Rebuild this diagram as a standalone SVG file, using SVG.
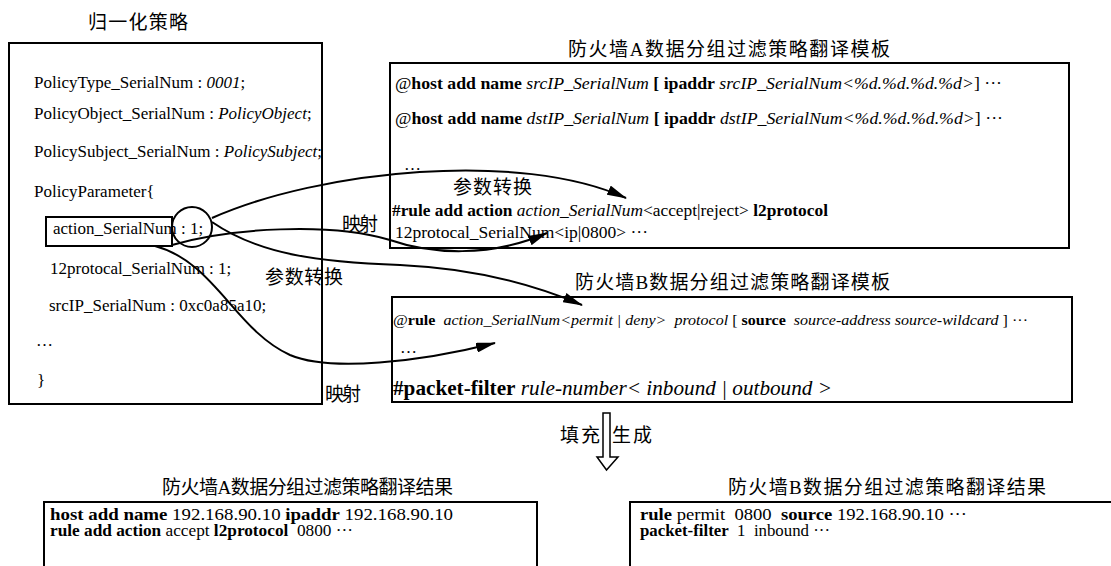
<svg xmlns="http://www.w3.org/2000/svg" width="1111" height="566" viewBox="0 0 1111 566">
<style>
  .box{fill:none;stroke:#000;stroke-width:2}
  .t{font-family:"Liberation Serif","Noto Sans CJK SC",serif;fill:#000}
  .cjk{font-family:"Noto Sans CJK SC","Liberation Serif",sans-serif;font-size:19px;fill:#000}
  .ti{font-family:"Liberation Serif","Noto Sans CJK SC",serif;font-size:19px;fill:#000}
  .b{font-weight:bold}
  .i{font-style:italic}
  .conn{fill:none;stroke:#000;stroke-width:2}
</style>
<defs>
  <marker id="ah" viewBox="0 0 20 10" refX="19" refY="5" markerWidth="20" markerHeight="10" markerUnits="userSpaceOnUse" orient="auto">
    <path d="M0,0 L20,5 L0,10 z" fill="#000"/>
  </marker>
</defs>
<rect width="1111" height="566" fill="#fff"/>

<g id="normalized-policy">
  <text class="cjk" x="88" y="29" textLength="100" lengthAdjust="spacing">归一化策略</text>
  <rect class="box" x="9" y="43" width="313" height="361"/>
  <text class="t" font-size="17" x="34" y="88">PolicyType_SerialNum : <tspan class="i">0001</tspan>;</text>
  <text class="t" font-size="17" x="34" y="119">PolicyObject_SerialNum : <tspan class="i">PolicyObject</tspan>;</text>
  <text class="t" font-size="17" x="34" y="157">PolicySubject_SerialNum : <tspan class="i">PolicySubject</tspan>;</text>
  <text class="t" font-size="17" x="34" y="197">PolicyParameter{</text>
  <text class="t" font-size="17" x="53" y="234">action_SerialNum : 1;</text>
  <rect class="box" x="46" y="217" width="126" height="29"/>
  <circle class="box" cx="192" cy="227" r="20"/>
  <text class="t" font-size="17" x="50" y="274">12protocal_SerialNum : 1;</text>
  <text class="t" font-size="17" x="49" y="311">srcIP_SerialNum : 0xc0a85a10;</text>
  <text class="t" font-size="17" x="36" y="346">…</text>
  <text class="t" font-size="17" x="37" y="386">}</text>
</g>

<g id="template-a">
  <text class="ti" x="568" y="56" textLength="322" lengthAdjust="spacing">防火墙A数据分组过滤策略翻译模板</text>
  <rect class="box" x="390" y="63" width="679" height="185"/>
  <text class="t" font-size="17" x="395" y="89" xml:space="preserve" textLength="607" lengthAdjust="spacingAndGlyphs">@<tspan class="b">host add name</tspan> <tspan class="i">srcIP_SerialNum</tspan> <tspan class="b">[ ipaddr</tspan> <tspan class="i">srcIP_SerialNum&lt;%d.%d.%d.%d&gt;</tspan>] ···</text>
  <text class="t" font-size="17" x="395" y="124" xml:space="preserve" textLength="608" lengthAdjust="spacingAndGlyphs">@<tspan class="b">host add name</tspan> <tspan class="i">dstIP_SerialNum</tspan> <tspan class="b">[ ipaddr</tspan> <tspan class="i">dstIP_SerialNum&lt;%d.%d.%d.%d&gt;</tspan>] ···</text>
  <text class="t" font-size="17" x="404" y="170">…</text>
  <text class="t" font-size="17" x="392" y="216" xml:space="preserve" textLength="436" lengthAdjust="spacingAndGlyphs"><tspan class="b">#rule add action</tspan> <tspan class="i">action_SerialNum</tspan>&lt;accept|reject&gt; <tspan class="b">l2protocol</tspan></text>
  <text class="t" font-size="17" x="395" y="238" xml:space="preserve" textLength="253" lengthAdjust="spacingAndGlyphs">12protocal_SerialNum&lt;ip|0800&gt; ···</text>
</g>

<g id="template-b">
  <text class="ti" x="575" y="289" textLength="315" lengthAdjust="spacing">防火墙B数据分组过滤策略翻译模板</text>
  <rect class="box" x="392" y="297" width="680" height="105"/>
  <text class="t" font-size="14" x="393" y="325" xml:space="preserve" textLength="635" lengthAdjust="spacingAndGlyphs">@<tspan class="b">rule</tspan>  <tspan class="i">action_SerialNum&lt;permit | deny&gt;  protocol</tspan> [ <tspan class="b">source</tspan>  <tspan class="i">source-address source-wildcard</tspan> ] ···</text>
  <text class="t" font-size="17" x="400" y="353">…</text>
  <text class="t" font-size="21" x="393" y="395" xml:space="preserve" textLength="439" lengthAdjust="spacingAndGlyphs"><tspan class="b">#packet-filter</tspan> <tspan class="i">rule-number&lt; inbound | outbound &gt;</tspan></text>
</g>

<g id="result-a">
  <text class="ti" x="162" y="494" textLength="291" lengthAdjust="spacing">防火墙A数据分组过滤策略翻译结果</text>
  <rect class="box" x="44" y="502" width="493" height="90"/>
  <text class="t" font-size="16" x="50" y="520" xml:space="preserve" textLength="403" lengthAdjust="spacingAndGlyphs"><tspan class="b">host add name</tspan> 192.168.90.10 <tspan class="b">ipaddr</tspan> 192.168.90.10</text>
  <text class="t" font-size="16" x="50" y="536" xml:space="preserve" textLength="303" lengthAdjust="spacingAndGlyphs"><tspan class="b">rule add action</tspan> accept <tspan class="b">l2protocol</tspan>  0800 ···</text>
</g>

<g id="result-b">
  <text class="ti" x="728" y="494" textLength="318" lengthAdjust="spacing">防火墙B数据分组过滤策略翻译结果</text>
  <rect class="box" x="630" y="502" width="500" height="90"/>
  <text class="t" font-size="16" x="640" y="520" xml:space="preserve" textLength="327" lengthAdjust="spacingAndGlyphs"><tspan class="b">rule</tspan> permit  0800  <tspan class="b">source</tspan> 192.168.90.10 ···</text>
  <text class="t" font-size="16" x="640" y="536" xml:space="preserve" textLength="190" lengthAdjust="spacingAndGlyphs"><tspan class="b">packet-filter</tspan>  1  inbound ···</text>
</g>

<g id="connectors">
  <path class="conn" d="M212,218 C320,170 520,150 626,198" marker-end="url(#ah)"/>
  <path class="conn" d="M172,245 C230,228 330,222 390,240 C430,254 490,258 547,233" marker-end="url(#ah)"/>
  <path class="conn" d="M212,222 C260,255 320,262 400,265 C470,268 530,283 582,305" marker-end="url(#ah)"/>
  <path class="conn" d="M155,246 C215,262 235,330 290,355 C330,372 420,362 495,343" marker-end="url(#ah)"/>
  <polygon points="603,413 610,413 610,457 618,457 606.5,470 597,457 603,457" fill="#fff" stroke="#000" stroke-width="1.5"/>
</g>

<g id="labels">
  <text class="cjk" x="453" y="194" textLength="79" lengthAdjust="spacing">参数转换</text>
  <text class="cjk" x="342" y="231" textLength="36" lengthAdjust="spacing">映射</text>
  <text class="cjk" x="265" y="284" textLength="78" lengthAdjust="spacing">参数转换</text>
  <text class="cjk" x="325" y="401" textLength="36" lengthAdjust="spacing">映射</text>
  <text class="cjk" x="560" y="442" textLength="40" lengthAdjust="spacing">填充</text>
  <text class="cjk" x="612" y="442" textLength="40" lengthAdjust="spacing">生成</text>
</g>
</svg>
